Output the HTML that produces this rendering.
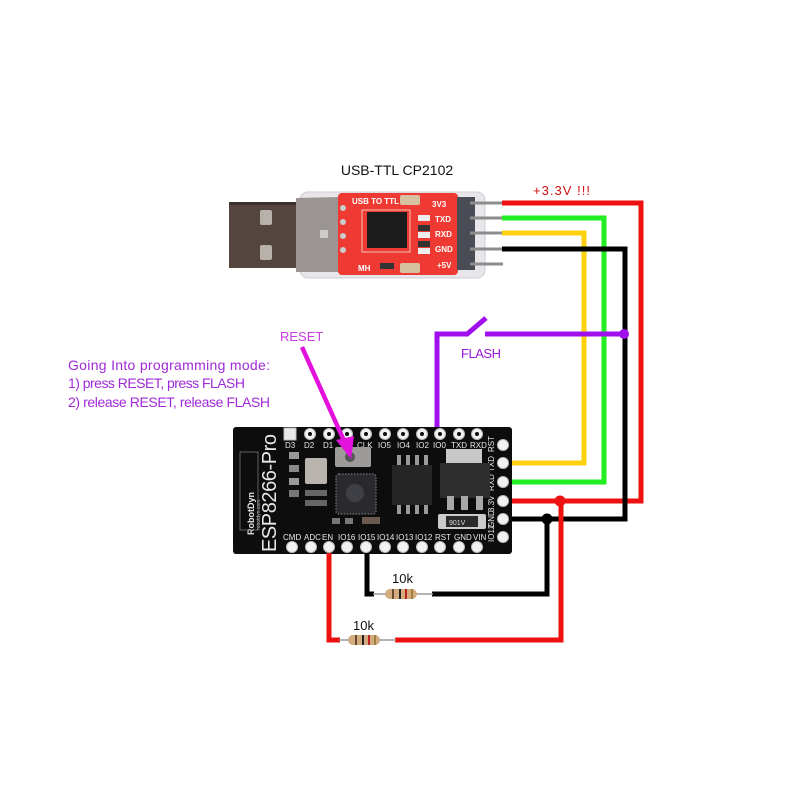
<!DOCTYPE html>
<html><head><meta charset="utf-8"><style>
html,body{margin:0;padding:0;background:#fff;}
svg{display:block;}
text{font-family:"Liberation Sans",sans-serif;}
</style></head><body>
<svg width="800" height="800" viewBox="0 0 800 800" xmlns="http://www.w3.org/2000/svg">
<rect width="800" height="800" fill="#fff"/>

<!-- Title -->
<text x="397" y="175" font-size="14" fill="#111" text-anchor="middle">USB-TTL CP2102</text>
<text x="533" y="195" font-size="13" fill="#d01010" textLength="57">+3.3V !!!</text>

<!-- USB stick -->
<rect x="300" y="192" width="185" height="86" rx="8" fill="#e8e6ea" stroke="#cfcdd2"/>
<rect x="229" y="202" width="72" height="66" fill="#54463f"/>
<rect x="229" y="202" width="72" height="3" fill="#3a302c"/>
<rect x="260" y="210" width="12" height="15" rx="2" fill="#b8b0aa"/>
<rect x="260" y="245" width="12" height="15" rx="2" fill="#b8b0aa"/>
<polygon points="296,198 340,197 340,272 296,272" fill="#9a9593"/>
<rect x="320" y="230" width="8" height="8" fill="#d0ccc8"/>
<rect x="338" y="193" width="120" height="82" rx="4" fill="#ee3a32"/>
<circle cx="343" cy="208" r="3" fill="#ccc"/><circle cx="343" cy="222" r="3" fill="#ccc"/>
<circle cx="343" cy="236" r="3" fill="#ccc"/><circle cx="343" cy="250" r="3" fill="#ccc"/>
<rect x="367" y="212" width="40" height="36" fill="#1c1c1c"/>
<rect x="362" y="210" width="48" height="42" fill="none" stroke="#f7c0b8" stroke-width="1"/>
<rect x="400" y="195" width="20" height="10" rx="2" fill="#d6c2a0"/>
<rect x="400" y="263" width="20" height="10" rx="2" fill="#d6c2a0"/>
<rect x="418" y="215" width="12" height="6" fill="#eee"/><rect x="418" y="225" width="12" height="6" fill="#333"/>
<rect x="418" y="232" width="12" height="6" fill="#eee"/><rect x="418" y="241" width="12" height="6" fill="#333"/>
<rect x="418" y="248" width="12" height="6" fill="#eee"/>
<rect x="380" y="263" width="14" height="6" fill="#333"/>
<text x="352" y="204" font-size="8" fill="#fff" font-weight="bold">USB TO TTL</text>
<text x="432" y="207" font-size="8" fill="#fff" font-weight="bold">3V3</text>
<text x="435" y="222" font-size="8" fill="#fff" font-weight="bold">TXD</text>
<text x="435" y="237" font-size="8" fill="#fff" font-weight="bold">RXD</text>
<text x="435" y="252" font-size="8" fill="#fff" font-weight="bold">GND</text>
<text x="437" y="268" font-size="8" fill="#fff" font-weight="bold">+5V</text>
<text x="358" y="271" font-size="8" fill="#fff" font-weight="bold">MH</text>
<rect x="457" y="197" width="18" height="73" fill="#4a4c55"/>
<g stroke="#8c8c8c" stroke-width="3">
<line x1="470" y1="203" x2="503" y2="203"/><line x1="470" y1="218" x2="503" y2="218"/>
<line x1="470" y1="233" x2="503" y2="233"/><line x1="470" y1="249" x2="503" y2="249"/>
<line x1="470" y1="264" x2="503" y2="264"/>
</g>

<!-- Wires top -->
<g fill="none" stroke-width="5" stroke-linejoin="miter">
<polyline points="502,203 641,203 641,501 508,501" stroke="#ee1111"/>
<polyline points="502,218 604,218 604,482 508,482" stroke="#22ee22"/>
<polyline points="502,233 584,233 584,463 508,463" stroke="#fcd20f"/>
<polyline points="502,249 625,249 625,519 508,519" stroke="#000"/>
</g>
<!-- Flash switch -->
<g fill="none" stroke="#a010ee" stroke-width="5">
<polyline points="437,428 437,334 468,334"/>
<line x1="466" y1="335" x2="486" y2="318"/>
<line x1="485" y1="334" x2="624" y2="334"/>
</g>
<circle cx="624" cy="334" r="5" fill="#a010ee"/>
<text x="461" y="358" font-size="13" fill="#9a18d8" textLength="40">FLASH</text>

<!-- Instructions -->
<g font-size="14" fill="#a02ad8">
<text x="68" y="370" textLength="202">Going Into programming mode:</text>
<text x="68" y="388" textLength="177">1) press RESET, press FLASH</text>
<text x="68" y="407" textLength="202">2) release RESET, release FLASH</text>
</g>
<text x="280" y="341" font-size="13" fill="#c83ae0">RESET</text>

<!-- Board -->
<rect x="233" y="427" width="279" height="127" rx="3" fill="#0d0d0d"/>
<g fill="#f2f2f2" stroke="#bbb" stroke-width="1">
<rect x="284" y="428" width="12" height="12" fill="#e8e8e8"/>
<circle cx="310" cy="434" r="5.5"/><circle cx="329" cy="434" r="5.5"/><circle cx="347" cy="434" r="5.5"/>
<circle cx="366" cy="434" r="5.5"/><circle cx="385" cy="434" r="5.5"/><circle cx="403" cy="434" r="5.5"/>
<circle cx="422" cy="434" r="5.5"/><circle cx="440" cy="434" r="5.5"/><circle cx="459" cy="434" r="5.5"/>
<circle cx="477" cy="434" r="5.5"/>
<circle cx="292" cy="547" r="5.5"/><circle cx="311" cy="547" r="5.5"/><circle cx="329" cy="547" r="5.5"/>
<circle cx="347" cy="547" r="5.5"/><circle cx="366" cy="547" r="5.5"/><circle cx="385" cy="547" r="5.5"/>
<circle cx="403" cy="547" r="5.5"/><circle cx="422" cy="547" r="5.5"/><circle cx="440" cy="547" r="5.5"/>
<circle cx="459" cy="547" r="5.5"/><circle cx="477" cy="547" r="5.5"/>
<circle cx="503" cy="445" r="5.5"/><circle cx="503" cy="463" r="5.5"/><circle cx="503" cy="482" r="5.5"/>
<circle cx="503" cy="501" r="5.5"/><circle cx="503" cy="519" r="5.5"/><circle cx="503" cy="537" r="5.5"/>
</g>
<g fill="#0d0d0d">
<circle cx="310" cy="434" r="2"/><circle cx="329" cy="434" r="2"/><circle cx="347" cy="434" r="2"/>
<circle cx="366" cy="434" r="2"/><circle cx="385" cy="434" r="2"/><circle cx="403" cy="434" r="2"/>
<circle cx="422" cy="434" r="2"/><circle cx="440" cy="434" r="2"/><circle cx="459" cy="434" r="2"/>
<circle cx="477" cy="434" r="2"/>
</g>
<g font-size="8" fill="#e8e8e8">
<text x="285" y="448">D3</text><text x="304" y="448">D2</text><text x="323" y="448">D1</text>
<text x="357" y="448">CLK</text><text x="378" y="448">IO5</text><text x="397" y="448">IO4</text>
<text x="416" y="448">IO2</text><text x="433" y="448">IO0</text><text x="451" y="448">TXD</text><text x="470" y="448">RXD</text>
<text x="283" y="540">CMD</text><text x="304" y="540">ADC</text><text x="322" y="540">EN</text>
<text x="338" y="540">IO16</text><text x="358" y="540">IO15</text><text x="377" y="540">IO14</text>
<text x="396" y="540">IO13</text><text x="415" y="540">IO12</text><text x="435" y="540">RST</text>
<text x="454" y="540">GND</text><text x="473" y="540">VIN</text>
</g>
<g font-size="8" fill="#e8e8e8">
<text transform="translate(494,452) rotate(-90)">RST</text>
<text transform="translate(494,472) rotate(-90)">TXD</text>
<text transform="translate(494,491) rotate(-90)">RXD</text>
<text transform="translate(494,512) rotate(-90)">3.3V</text>
<text transform="translate(494,528) rotate(-90)">GND</text>
<text transform="translate(494,542) rotate(-90)">IO12</text>
</g>
<text transform="translate(276,552) rotate(-90)" font-size="20" fill="#e8e8e8" textLength="118">ESP8266-Pro</text>
<text transform="translate(254,535) rotate(-90)" font-size="9" fill="#e8e8e8" font-weight="bold">RobotDyn</text>
<text transform="translate(260,530) rotate(-90)" font-size="5" fill="#bbb">robotdyn.com</text>
<rect x="240" y="452" width="18" height="78" fill="none" stroke="#777" stroke-width="0.8"/>
<rect x="305" y="458" width="22" height="26" rx="2" fill="#b9b3ad"/>
<rect x="289" y="452" width="10" height="7" fill="#999"/><rect x="289" y="465" width="10" height="7" fill="#888"/>
<rect x="289" y="478" width="10" height="7" fill="#999"/><rect x="289" y="490" width="10" height="7" fill="#777"/>
<rect x="305" y="490" width="22" height="6" fill="#666"/><rect x="305" y="500" width="22" height="6" fill="#666"/>
<rect x="335" y="447" width="36" height="20" rx="2" fill="#9e9a99"/>
<circle cx="350" cy="457" r="5" fill="#555"/>
<rect x="336" y="474" width="40" height="40" rx="3" fill="#2a2a2e" stroke="#666" stroke-width="1.5" stroke-dasharray="1.5,1.5"/>
<circle cx="355" cy="493" r="9" fill="#3f3f46"/>
<rect x="345" y="518" width="8" height="6" fill="#777"/><rect x="332" y="518" width="8" height="6" fill="#777"/>
<rect x="362" y="517" width="18" height="7" fill="#6a5a50"/>
<g fill="#9a9a9a"><rect x="397" y="455" width="4" height="12"/><rect x="406" y="455" width="4" height="12"/>
<rect x="415" y="455" width="4" height="12"/><rect x="424" y="455" width="4" height="12"/>
<rect x="397" y="502" width="4" height="12"/><rect x="406" y="502" width="4" height="12"/>
<rect x="415" y="502" width="4" height="12"/><rect x="424" y="502" width="4" height="12"/></g>
<rect x="392" y="465" width="40" height="40" fill="#262626"/>
<rect x="446" y="449" width="36" height="16" fill="#c8c8c8"/>
<rect x="440" y="463" width="50" height="35" fill="#2e2e2e"/>
<g fill="#a8a8a8"><rect x="447" y="496" width="7" height="14"/><rect x="461" y="496" width="7" height="14"/><rect x="476" y="496" width="7" height="14"/></g>
<rect x="438" y="514" width="48" height="15" rx="2" fill="#ccc"/>
<rect x="446" y="516" width="32" height="11" fill="#2a2a2a"/>
<text x="449" y="525" font-size="7" fill="#ddd">901V</text>

<!-- RESET arrow -->
<line x1="302" y1="347" x2="345" y2="443" stroke="#e212dc" stroke-width="4.5"/>
<polygon points="351,459 336,440 354,436" fill="#e212dc"/>

<!-- Bottom wires -->
<g fill="none" stroke-width="5">
<polyline points="367,553 367,594 374,594" stroke="#000"/>
<polyline points="432,594 547,594 547,519" stroke="#000"/>
<polyline points="329,553 329,640 340,640" stroke="#ee1111"/>
<polyline points="395,640 561,640 561,501" stroke="#ee1111"/>
</g>
<circle cx="547" cy="519" r="5.5" fill="#000"/>
<circle cx="560" cy="501" r="5.5" fill="#ee1111"/>
<line x1="373" y1="594" x2="433" y2="594" stroke="#9a9a9a" stroke-width="1.5"/>
<rect x="385" y="589" width="32" height="10" rx="5" fill="#d2ab7e"/>
<rect x="392" y="589" width="2" height="10" fill="#6a4a30"/><rect x="399" y="589" width="2" height="10" fill="#222"/>
<rect x="405" y="589" width="2" height="10" fill="#c02020"/><rect x="411" y="589" width="2" height="10" fill="#a08040"/>
<line x1="339" y1="640" x2="396" y2="640" stroke="#9a9a9a" stroke-width="1.5"/>
<rect x="348" y="635" width="32" height="10" rx="5" fill="#d2ab7e"/>
<rect x="355" y="635" width="2" height="10" fill="#6a4a30"/><rect x="362" y="635" width="2" height="10" fill="#222"/>
<rect x="368" y="635" width="2" height="10" fill="#c02020"/><rect x="374" y="635" width="2" height="10" fill="#a08040"/>
<text x="392" y="583" font-size="13" fill="#111">10k</text>
<text x="353" y="630" font-size="13" fill="#111">10k</text>
</svg>
</body></html>
